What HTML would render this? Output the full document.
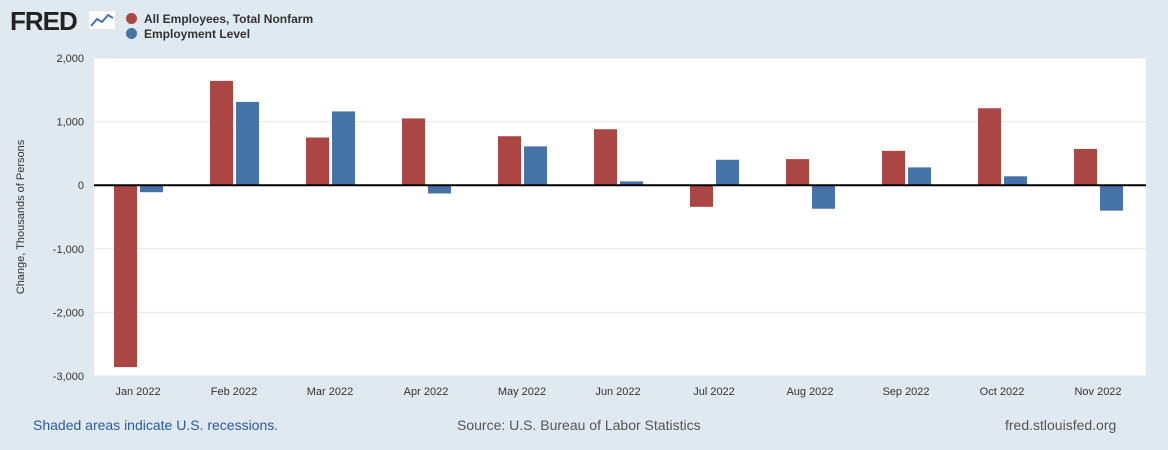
<!DOCTYPE html>
<html><head><meta charset="utf-8"><style>
body{margin:0;width:1168px;height:450px;background:#e1e9f0;font-family:"Liberation Sans",sans-serif;overflow:hidden;position:relative}
.t{position:absolute;white-space:nowrap}
</style></head><body>
<div class="t" style="left:10px;top:6px;font-size:26px;font-weight:bold;color:#222;letter-spacing:-1px">FRED</div>
<svg class="t" style="left:88px;top:10px" width="28" height="20"><rect x="0" y="0" width="28" height="20" fill="#fff" stroke="#ccc"/><polyline points="3,16 9,9 14,12 20,5 25,8" fill="none" stroke="#4572a7" stroke-width="2"/></svg>
<div class="t" style="left:126px;top:12px;font-size:12px;font-weight:bold;color:#333"><span style="display:inline-block;width:11px;height:11px;border-radius:50%;background:#aa4643;vertical-align:-1px;margin-right:7px"></span>All Employees, Total Nonfarm</div>
<div class="t" style="left:126px;top:27px;font-size:12px;font-weight:bold;color:#333"><span style="display:inline-block;width:11px;height:11px;border-radius:50%;background:#4572a7;vertical-align:-1px;margin-right:7px"></span>Employment Level</div>
<svg id="chart" class="t" style="left:0;top:0" width="1168" height="450"></svg>
<div class="t" style="left:33px;top:417px;font-size:14px;color:#2a5aa0">Shaded areas indicate U.S. recessions.</div>
<div class="t" style="left:457px;top:417px;font-size:14px;color:#555">Source: U.S. Bureau of Labor Statistics</div>
<div class="t" style="left:1005px;top:417px;font-size:14px;color:#555">fred.stlouisfed.org</div>
<script>
const categories=["Jan 2022","Feb 2022","Mar 2022","Apr 2022","May 2022","Jun 2022","Jul 2022","Aug 2022","Sep 2022","Oct 2022","Nov 2022"];
const nonfarm=[-2860,1640,750,1050,770,880,-340,410,540,1210,570];
const employment=[-110,1310,1160,-130,610,60,400,-370,280,140,-400];
const yTicks=[2000,1000,0,-1000,-2000,-3000];
const yTickLabels=["2,000","1,000","0","-1,000","-2,000","-3,000"];
const NS="http://www.w3.org/2000/svg";
const svg=document.getElementById('chart');
const L=94,R=1146,T=58,B=376;
const y=v=>T+(2000-v)/5000*(B-T);
const x=i=>138+i*96;
function mk(t,a,p){const e=document.createElementNS(NS,t);for(const k in a)e.setAttribute(k,a[k]);(p||svg).appendChild(e);return e;}
const bg=mk('rect',{x:L,y:T,width:R-L,height:B-T,fill:'#fff'});


yTicks.forEach((v,i)=>{
 const g=mk('line',{x1:L,x2:R,y1:y(v),y2:y(v),stroke:'#e6e6e6'});
 
 
 const t=mk('text',{x:L-10,y:y(v)+4,'text-anchor':'end','font-size':11,fill:'#333'});
 t.textContent=yTickLabels[i];
 
 
});
const bw=23;
categories.forEach((c,i)=>{
 const v1=nonfarm[i],v2=employment[i];
 const r1=mk('rect',{x:x(i)-bw-1,y:Math.min(y(v1),y(0)),width:bw,height:Math.abs(y(v1)-y(0)),fill:'#aa4643'});
 
 
 const r2=mk('rect',{x:x(i)+2,y:Math.min(y(v2),y(0)),width:bw,height:Math.abs(y(v2)-y(0)),fill:'#4572a7'});
 
 
 const t=mk('text',{x:x(i),y:B+19,'text-anchor':'middle','font-size':11,fill:'#333'});
 t.textContent=c;
 
 
});
const z=mk('line',{x1:L,x2:R,y1:y(0),y2:y(0),stroke:'#000','stroke-width':2});


const yt=mk('text',{x:0,y:0,transform:'translate(24,217) rotate(-90)','text-anchor':'middle','font-size':11,fill:'#333'});
yt.textContent='Change, Thousands of Persons';


</script>
</body></html>
